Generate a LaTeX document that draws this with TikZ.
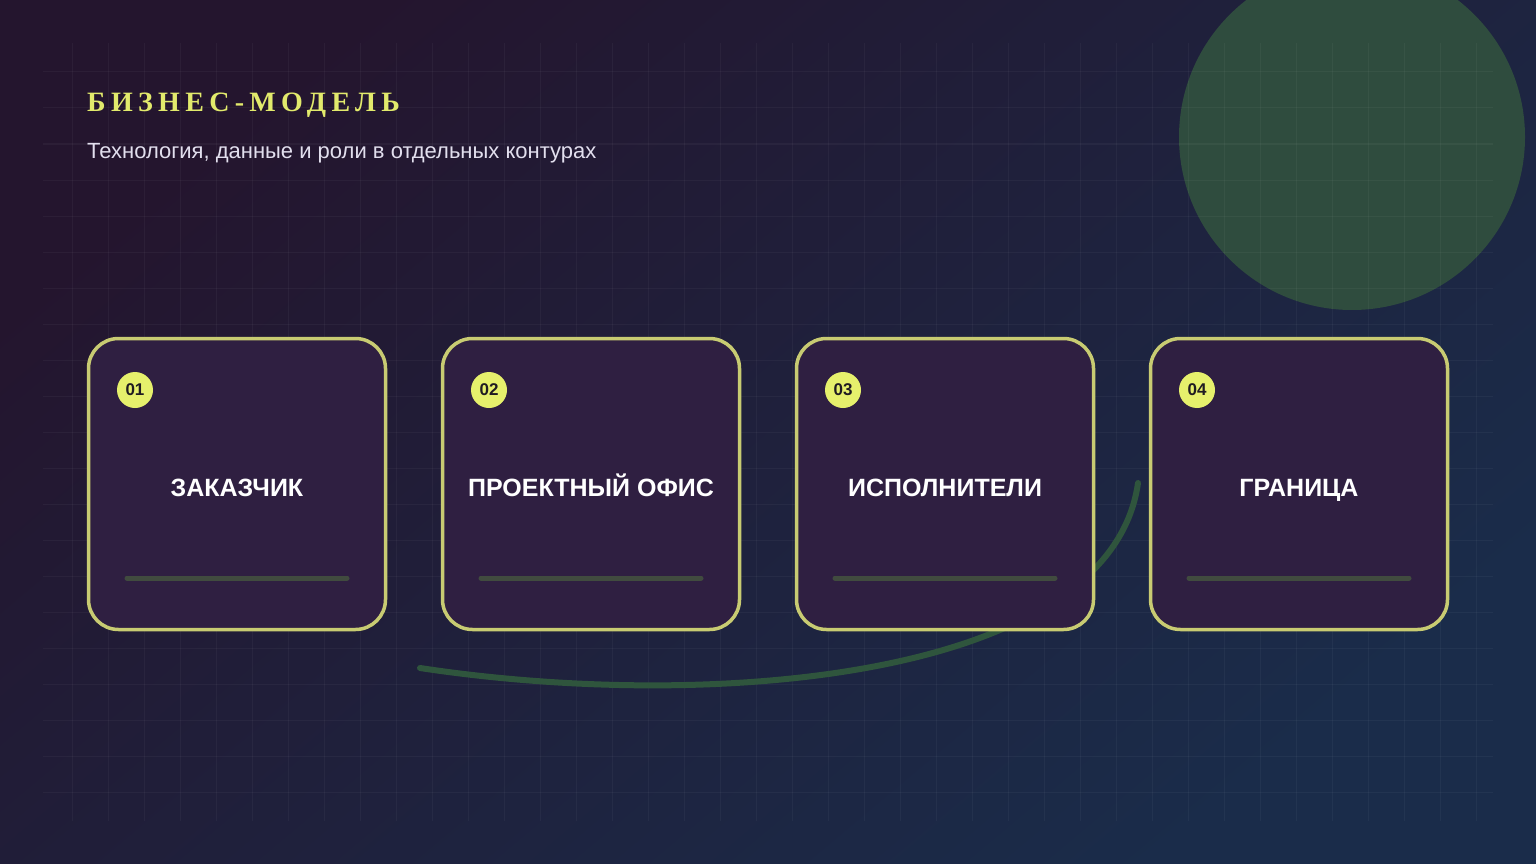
\documentclass[tikz,border=0pt]{standalone}
\usepackage{fontspec}
\setmainfont{Liberation Sans}
\newfontfamily\titlefont{Liberation Serif}[LetterSpace=19]
\usetikzlibrary{calc,positioning}
\usepackage{xcolor}

\definecolor{bgA}{HTML}{24152E}
\definecolor{bgB}{HTML}{1D1C38}
\definecolor{bgC}{HTML}{1A2C4A}
\definecolor{blob}{HTML}{2F4C3E}
\definecolor{cardfill}{HTML}{2F1F41}
\definecolor{cardline}{HTML}{C8CB72}
\definecolor{badgefill}{HTML}{E6F06C}
\definecolor{numcol}{HTML}{1F1B22}
\definecolor{titlecol}{HTML}{E2EA6C}
\definecolor{subcol}{HTML}{E2DFEE}
\definecolor{barcol}{HTML}{414B3F}
\definecolor{curvecol}{HTML}{2F553D}

\begin{document}
\begin{tikzpicture}
		[   x=1pt,y=-1pt,
		card/.style={draw=cardline,line width=3.5pt,fill=cardfill,rounded corners=30pt,minimum width=297pt,minimum height=291pt,inner sep=0pt},
		badge/.style={circle,fill=badgefill,minimum size=36pt,inner sep=0pt,text=numcol,font=\fontsize{17}{17}\selectfont\bfseries},
		cardtext/.style={text=white,inner sep=0pt,font=\fontsize{25}{28}\selectfont\bfseries},
		]
		\tikzset{bar/.style={draw=barcol,line width=5pt,line cap=round}}
		\tikzset{gridline/.style={draw=white,draw opacity=0.04,line width=1pt}}
		
		% background
		\shade[left color=bgC,middle color=bgB,right color=bgA,shading angle=-140] (0,864) rectangle (1536,0);
		\useasboundingbox (0,0) rectangle (1536,864);
		\fill[blob] (1352,137) circle (173);
		
		% grid
		\begin{scope}
			\clip (43,43) rectangle (1493,821);
			\foreach \gx in {36,72,...,1512}
			{
				\path[gridline] (\gx,43) -- (\gx,821);
			}
			\foreach \gy in {36,72,...,828}
			{
				\path[gridline] (43,\gy) -- (1493,\gy);
			}
		\end{scope}
		
		% curve
		\draw[curvecol,line width=6pt,line cap=round] (420,668) .. controls (710,712) and (1110,680) .. (1138,483);
		
		\node[anchor=base west,inner sep=0pt,text=titlecol,font=\titlefont\fontsize{28}{32}\selectfont\bfseries] (title) at (87,112) {БИЗНЕС-МОДЕЛЬ};
		\node[anchor=base west,inner sep=0pt,text=subcol,font=\fontsize{22}{24}\selectfont] (sub) at (87,158) {Технология, данные и роли в отдельных контурах};
		
		\foreach \i/\t [evaluate=\i as \x using 237+354*(\i-1)] in {1/ЗАКАЗЧИК,2/ПРОЕКТНЫЙ ОФИС,3/ИСПОЛНИТЕЛИ,4/ГРАНИЦА}
		{
			\node[card] (c-\i) at (\x,484) {};
			\node[badge] (n-\i) at (\x-102,390) {0\i};
			\node[cardtext,anchor=base] (t-\i) at (\x,496) {\t};
			\path[bar] (\x-110,578) -- (\x+110,578);
		}
		\end{tikzpicture}
\end{document}
